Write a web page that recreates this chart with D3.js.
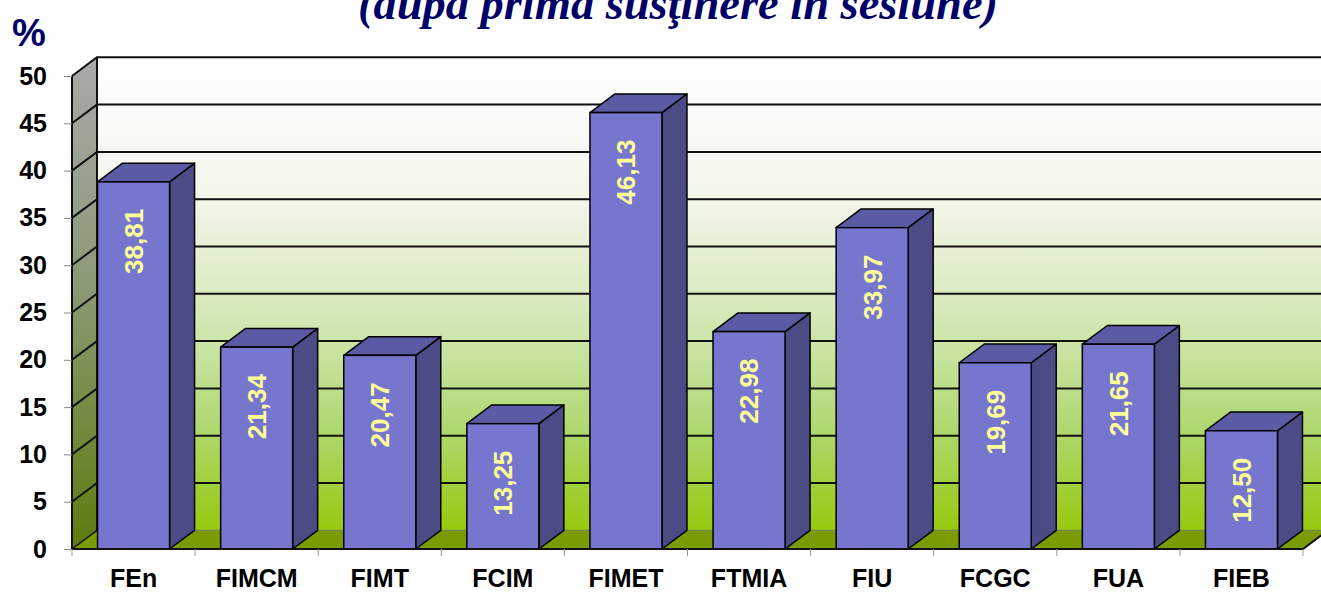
<!DOCTYPE html>
<html>
<head>
<meta charset="utf-8">
<script src="https://cdn.jsdelivr.net/npm/d3@7"></script>
<style>
  body { margin: 0; background: #fff; }
  svg text { font-family: Arial, "Liberation Sans", sans-serif; font-weight: bold; }
</style>
</head>
<body>
<div id="chart"></div>
<script>
// data
var categories = ["FEn", "FIMCM", "FIMT", "FCIM", "FIMET", "FTMIA", "FIU", "FCGC", "FUA", "FIEB"];
var values     = [38.81, 21.34, 20.47, 13.25, 46.13, 22.98, 33.97, 19.69, 21.65, 12.50];
var yTicks     = [0, 5, 10, 15, 20, 25, 30, 35, 40, 45, 50];
var titleText  = "(după prima susţinere în sesiune)";

var width  = 1321;
var height = 592;
var plot   = {left: 72, right: 1303, top: 76, bottom: 549};
var depth  = {dx: 25, dy: -18.7};

var svg = d3.select("#chart").append("svg")
	.attr("width", width)
	.attr("height", height);

var xScale = d3.scaleBand()
	.domain(categories)
	.range([plot.left, plot.right])
	.paddingInner(0.415)
	.paddingOuter(0.2075);

var yScale = d3.scaleLinear()
	.domain([0, 50])
	.range([plot.bottom, plot.top]);

var step = xScale.step();

// gradients
var defs = svg.append("defs");
var wallGrad = defs.append("linearGradient").attr("id", "wallGrad")
	.attr("x1", 0).attr("y1", 0).attr("x2", 0).attr("y2", 1);
[[0, "#ffffff"], [0.3, "#f1f6ea"], [0.55, "#d4e8b6"], [0.78, "#b0d872"], [1, "#97c90e"]].forEach(function(s) {
	wallGrad.append("stop").attr("offset", s[0]).attr("stop-color", s[1]);
});
var sideGrad = defs.append("linearGradient").attr("id", "sideGrad")
	.attr("x1", 0).attr("y1", 0).attr("x2", 0).attr("y2", 1);
[[0, "#a9a9a9"], [0.45, "#8c9a78"], [1, "#5e7c0e"]].forEach(function(s) {
	sideGrad.append("stop").attr("offset", s[0]).attr("stop-color", s[1]);
});

var line = d3.line();

// back wall
svg.append("rect")
	.attr("x", plot.left + depth.dx)
	.attr("y", yScale(50) + depth.dy)
	.attr("width", plot.right - plot.left + 10)
	.attr("height", yScale(0) - yScale(50))
	.attr("fill", "url(#wallGrad)");

// left wall
svg.append("path")
	.attr("d", line([
		[plot.left, yScale(50)],
		[plot.left + depth.dx, yScale(50) + depth.dy],
		[plot.left + depth.dx, yScale(0) + depth.dy],
		[plot.left, yScale(0)]
	]) + "Z")
	.attr("fill", "url(#sideGrad)");

// floor
svg.append("path")
	.attr("d", line([
		[plot.left, yScale(0)],
		[plot.right, yScale(0)],
		[plot.right + depth.dx, yScale(0) + depth.dy],
		[plot.left + depth.dx, yScale(0) + depth.dy]
	]) + "Z")
	.attr("fill", "#7a9c02");

// gridlines
var grid = svg.append("g").attr("class", "grid");
grid.selectAll(".gback")
	.data(yTicks.filter(function(d) { return d > 0; }))
	.enter().append("path")
	.attr("d", function(d) {
		return line([
			[plot.left, yScale(d)],
			[plot.left + depth.dx, yScale(d) + depth.dy],
			[width + 10, yScale(d) + depth.dy]
		]);
	})
	.attr("fill", "none")
	.attr("stroke", "#111")
	.attr("stroke-width", 2);

grid.append("path")
	.attr("d", line([
		[plot.left + depth.dx, yScale(0) + depth.dy],
		[plot.right + depth.dx + 10, yScale(0) + depth.dy]
	]))
	.attr("stroke", "#6f7f4a")
	.attr("stroke-width", 1);

grid.append("path")
	.attr("d", line([
		[plot.left, yScale(0)],
		[plot.left + depth.dx, yScale(0) + depth.dy]
	]))
	.attr("stroke", "#111")
	.attr("stroke-width", 1.5);

// left wall outline
svg.append("path")
	.attr("d", line([
		[plot.left + depth.dx, yScale(0) + depth.dy],
		[plot.left + depth.dx, yScale(50) + depth.dy]
	]))
	.attr("stroke", "#111")
	.attr("stroke-width", 2);

// bars
var bars = svg.selectAll(".bar")
	.data(categories.map(function(c, i) { return {cat: c, value: values[i]}; }))
	.enter().append("g")
	.attr("class", "bar");

bars.append("path")
	.attr("d", function(d) {
		var x1 = xScale(d.cat) + xScale.bandwidth();
		var yt = yScale(d.value), yb = yScale(0);
		return line([[x1, yt], [x1 + depth.dx, yt + depth.dy], [x1 + depth.dx, yb + depth.dy], [x1, yb]]) + "Z";
	})
	.attr("fill", "#4b4b86")
	.attr("stroke", "#000")
	.attr("stroke-width", 1.5)
	.attr("stroke-linejoin", "round");

bars.append("path")
	.attr("d", function(d) {
		var x0 = xScale(d.cat), x1 = x0 + xScale.bandwidth();
		var yt = yScale(d.value);
		return line([[x0, yt], [x0 + depth.dx, yt + depth.dy], [x1 + depth.dx, yt + depth.dy], [x1, yt]]) + "Z";
	})
	.attr("fill", "#5b5ba5")
	.attr("stroke", "#000")
	.attr("stroke-width", 1.5)
	.attr("stroke-linejoin", "round");

bars.append("rect")
	.attr("x", function(d) { return xScale(d.cat); })
	.attr("y", function(d) { return yScale(d.value); })
	.attr("width", xScale.bandwidth())
	.attr("height", function(d) { return yScale(0) - yScale(d.value); })
	.attr("fill", "#7676cf")
	.attr("stroke", "#000")
	.attr("stroke-width", 1.5);

bars.append("text")
	.attr("transform", function(d) {
		return "translate(" + (xScale(d.cat) + xScale.bandwidth() / 2) + "," + (yScale(d.value) + 27) + ") rotate(-90)";
	})
	.attr("text-anchor", "end")
	.attr("dy", "0.36em")
	.attr("fill", "#ffff99")
	.style("font-size", "26px")
	.text(function(d) { return d3.format(".2f")(d.value).replace(".", ","); });

// front edges
svg.append("path")
	.attr("d", line([[plot.left, yScale(50)], [plot.left, yScale(0)]]))
	.attr("stroke", "#111")
	.attr("stroke-width", 2);
svg.append("path")
	.attr("d", line([
		[plot.left, yScale(0)],
		[plot.right, yScale(0)],
		[plot.right + depth.dx, yScale(0) + depth.dy]
	]))
	.attr("fill", "none")
	.attr("stroke", "#111")
	.attr("stroke-width", 2);

// y axis
var yAxis = d3.axisLeft(yScale).tickValues(yTicks).tickSize(8).tickPadding(17);
var yAxisG = svg.append("g")
	.attr("transform", "translate(" + plot.left + ",0)")
	.call(yAxis);
yAxisG.select(".domain").remove();
yAxisG.selectAll(".tick line").attr("stroke", "#888");
yAxisG.selectAll(".tick text")
	.attr("fill", "#000")
	.style("font-size", "25px")
	.style("font-family", "Arial, 'Liberation Sans', sans-serif")
	.style("font-weight", "bold");

// x axis
var xAxis = d3.axisBottom(xScale).tickSize(0).tickPadding(20);
var xAxisG = svg.append("g")
	.attr("transform", "translate(0," + plot.bottom + ")")
	.call(xAxis);
xAxisG.select(".domain").remove();
xAxisG.selectAll(".tick text")
	.attr("fill", "#000")
	.style("font-size", "25px")
	.style("font-family", "Arial, 'Liberation Sans', sans-serif")
	.style("font-weight", "bold");

xAxisG.selectAll(".sep")
	.data(d3.range(categories.length + 1))
	.enter().append("line")
	.attr("x1", function(i) { return plot.left + i * step; })
	.attr("x2", function(i) { return plot.left + i * step; })
	.attr("y1", 0)
	.attr("y2", 7)
	.attr("stroke", "#999");

// labels
svg.append("text")
	.attr("x", 12)
	.attr("y", 46)
	.attr("fill", "#000066")
	.style("font-size", "38px")
	.text("%");

svg.append("text")
	.attr("x", 358)
	.attr("y", 19)
	.attr("textLength", 640)
	.attr("lengthAdjust", "spacingAndGlyphs")
	.attr("fill", "#000066")
	.style("font-family", "'Times New Roman', 'Liberation Serif', serif")
	.style("font-style", "italic")
	.style("font-size", "46px")
	.text(titleText);
</script>
</body>
</html>
